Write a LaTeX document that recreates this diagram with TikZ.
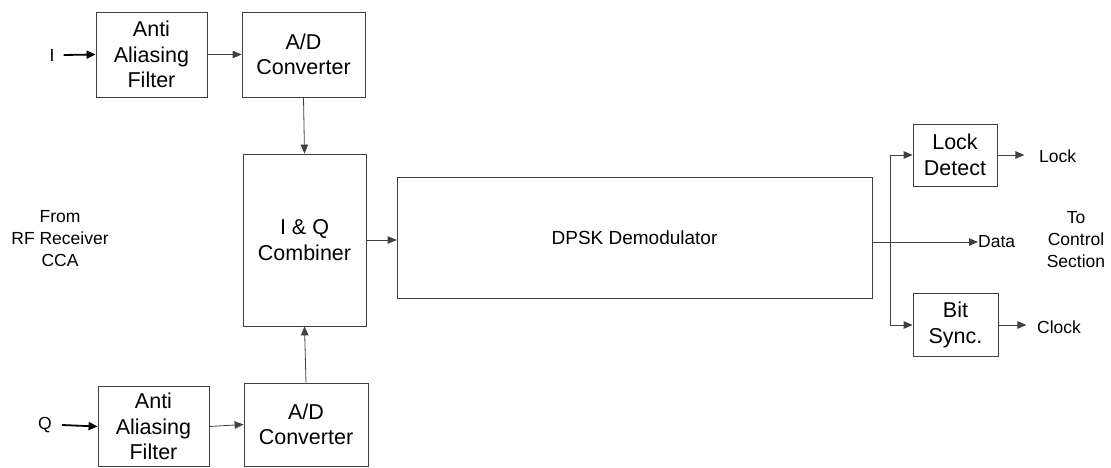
\documentclass[tikz,border=0pt]{standalone}
\usepackage{fontspec}
\setmainfont{Liberation Sans}
\usetikzlibrary{arrows.meta}
\begin{document}
\begin{tikzpicture}[x=1pt,y=-1pt,
  blk/.style={draw=black!75, line width=0.8pt, inner sep=0pt, align=center,
    font=\fontsize{21.5}{25.5}\selectfont},
  lbl/.style={inner sep=0pt, align=center, font=\fontsize{17.5}{22}\selectfont},
  con/.style={draw=black!75, line width=0.8pt, -{Triangle[length=9pt,width=7.5pt]}},
  inp/.style={draw=black, line width=1.8pt, -{Triangle[length=9pt,width=8pt]}}]
\useasboundingbox (0,0) rectangle (1111,468);
% boxes
\node[blk, minimum width=111pt, minimum height=85pt] (aaf1) at (151.5,54.5) {Anti\\Aliasing\\Filter};
\node[blk, minimum width=123pt, minimum height=85pt] (ad1) at (303.5,54.5) {A/D\\Converter};
\node[blk, minimum width=123pt, minimum height=172pt] (comb) at (304.5,240) {I \& Q\\Combiner};
\node[blk, minimum width=475pt, minimum height=121pt, font=\fontsize{19}{23}\selectfont] (dpsk) at (634.5,237.5) {DPSK Demodulator};
\node[blk, minimum width=111pt, minimum height=80pt] (aaf2) at (153.5,426.5) {Anti\\Aliasing\\Filter};
\node[blk, minimum width=124pt, minimum height=83pt] (ad2) at (306,424.5) {A/D\\Converter};
\node[blk, minimum width=84pt, minimum height=62pt] (lock) at (955,155) {Lock\\Detect};
\node[blk, minimum width=85pt, minimum height=63pt] (bits) at (955.5,325) {Bit\\Sync.};
% labels
\node[lbl] (iin) at (52,55) {I};
\node[lbl] (qin) at (45,425) {Q};
\node[lbl] (from) at (60,239) {From\\RF Receiver\\CCA};
\node[lbl, anchor=west] (data) at (978,242) {Data};
\node[lbl, anchor=west] (lockout) at (1039,156) {Lock};
\node[lbl, anchor=west] (clock) at (1037,327) {Clock};
\node[lbl] (toctl) at (1076,240) {To\\Control\\Section};
% connectors
\draw[inp] (iin.east) ++(9pt,0) coordinate (i0) -- (aaf1.west);
\draw[inp] (qin.east) ++(10pt,0) coordinate (q0) -- (aaf2.west);
\draw[con] (aaf1.east) -- (ad1.west);
\draw[con] (aaf2.east) -- (ad2.west);
\draw[con] (ad1.south) -- (comb.north);
\draw[con] (ad2.north) -- (comb.south);
\draw[con] (comb.east) -- (dpsk.west |- comb.east);
\draw[con] (dpsk.east |- data.west) -- (data.west);
\coordinate (br) at (890,242);
\draw[con] (br) |- (lock.west);
\draw[con] (br) |- (bits.west);
\draw[con] (lock.east) -- ++(27pt,0);
\draw[con] (bits.east) -- ++(28pt,0);
\end{tikzpicture}
\end{document}
